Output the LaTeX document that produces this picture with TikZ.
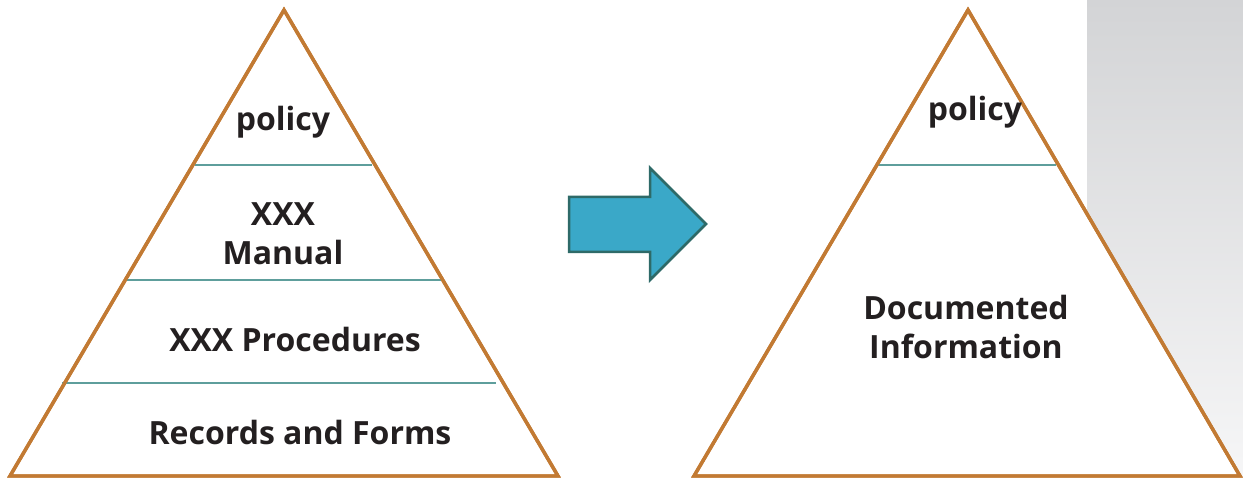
\documentclass[tikz,border=0pt]{standalone}
\usepackage{fontspec}
\setmainfont{Open Sans}
\definecolor{tri}{HTML}{C27A33}
\definecolor{sep}{HTML}{5E9E9C}
\definecolor{arrfill}{HTML}{3AA8C8}
\definecolor{arrdraw}{HTML}{2E6A68}
\definecolor{gtop}{HTML}{D3D4D6}
\definecolor{gbot}{HTML}{F6F6F7}
\definecolor{txt}{HTML}{231F20}
\begin{document}
\begin{tikzpicture}[x=1pt,y=-1pt,
  tribox/.style={draw=tri,fill=white,line width=3.4pt,line join=miter},
  sepline/.style={draw=sep,line width=1.6pt},
  lbl/.style={font=\fontsize{32}{39}\selectfont\bfseries,text=txt,align=center,inner sep=0pt}]
\useasboundingbox (0,0) rectangle (1243,478);
\fill[white] (0,0) rectangle (1243,478);
\shade[top color=gtop,bottom color=gbot] (1087,0) rectangle (1243,478);
% left pyramid
\coordinate (la) at (284,10);
\coordinate (lb) at (10,476);
\coordinate (lc) at (558,476);
\draw[tribox] (la) -- (lb) -- (lc) -- cycle;
\draw[sepline] (195,165) -- (372,165);
\draw[sepline] (127,280) -- (442,280);
\draw[sepline] (62,383) -- (496,383);
\draw[tri,line width=3.4pt] (la) -- (lb) -- (lc) -- cycle;
\node[lbl] (p1) at (283,122) {policy};
\node[lbl] (m1) at (283,234) {XXX\\Manual};
\node[lbl] (pr) at (295,340) {XXX Procedures};
\node[lbl] (rf) at (300,432) {Records and Forms};
% arrow
\draw[fill=arrfill,draw=arrdraw,line width=2.5pt,line join=miter]
  (569,197) -- (650,197) -- (650,168) -- (706,224) -- (650,280) -- (650,252) -- (569,252) -- cycle;
% right pyramid
\coordinate (ra) at (968,10);
\coordinate (rb) at (694,476);
\coordinate (rc) at (1240,476);
\draw[tribox] (ra) -- (rb) -- (rc) -- cycle;
\draw[sepline] (878,165) -- (1056,165);
\draw[tri,line width=3.4pt] (ra) -- (rb) -- (rc) -- cycle;
\node[lbl] (p2) at (975,112) {policy};
\node[lbl] (di) at (966,327) {Documented\\Information};
\end{tikzpicture}
\end{document}
